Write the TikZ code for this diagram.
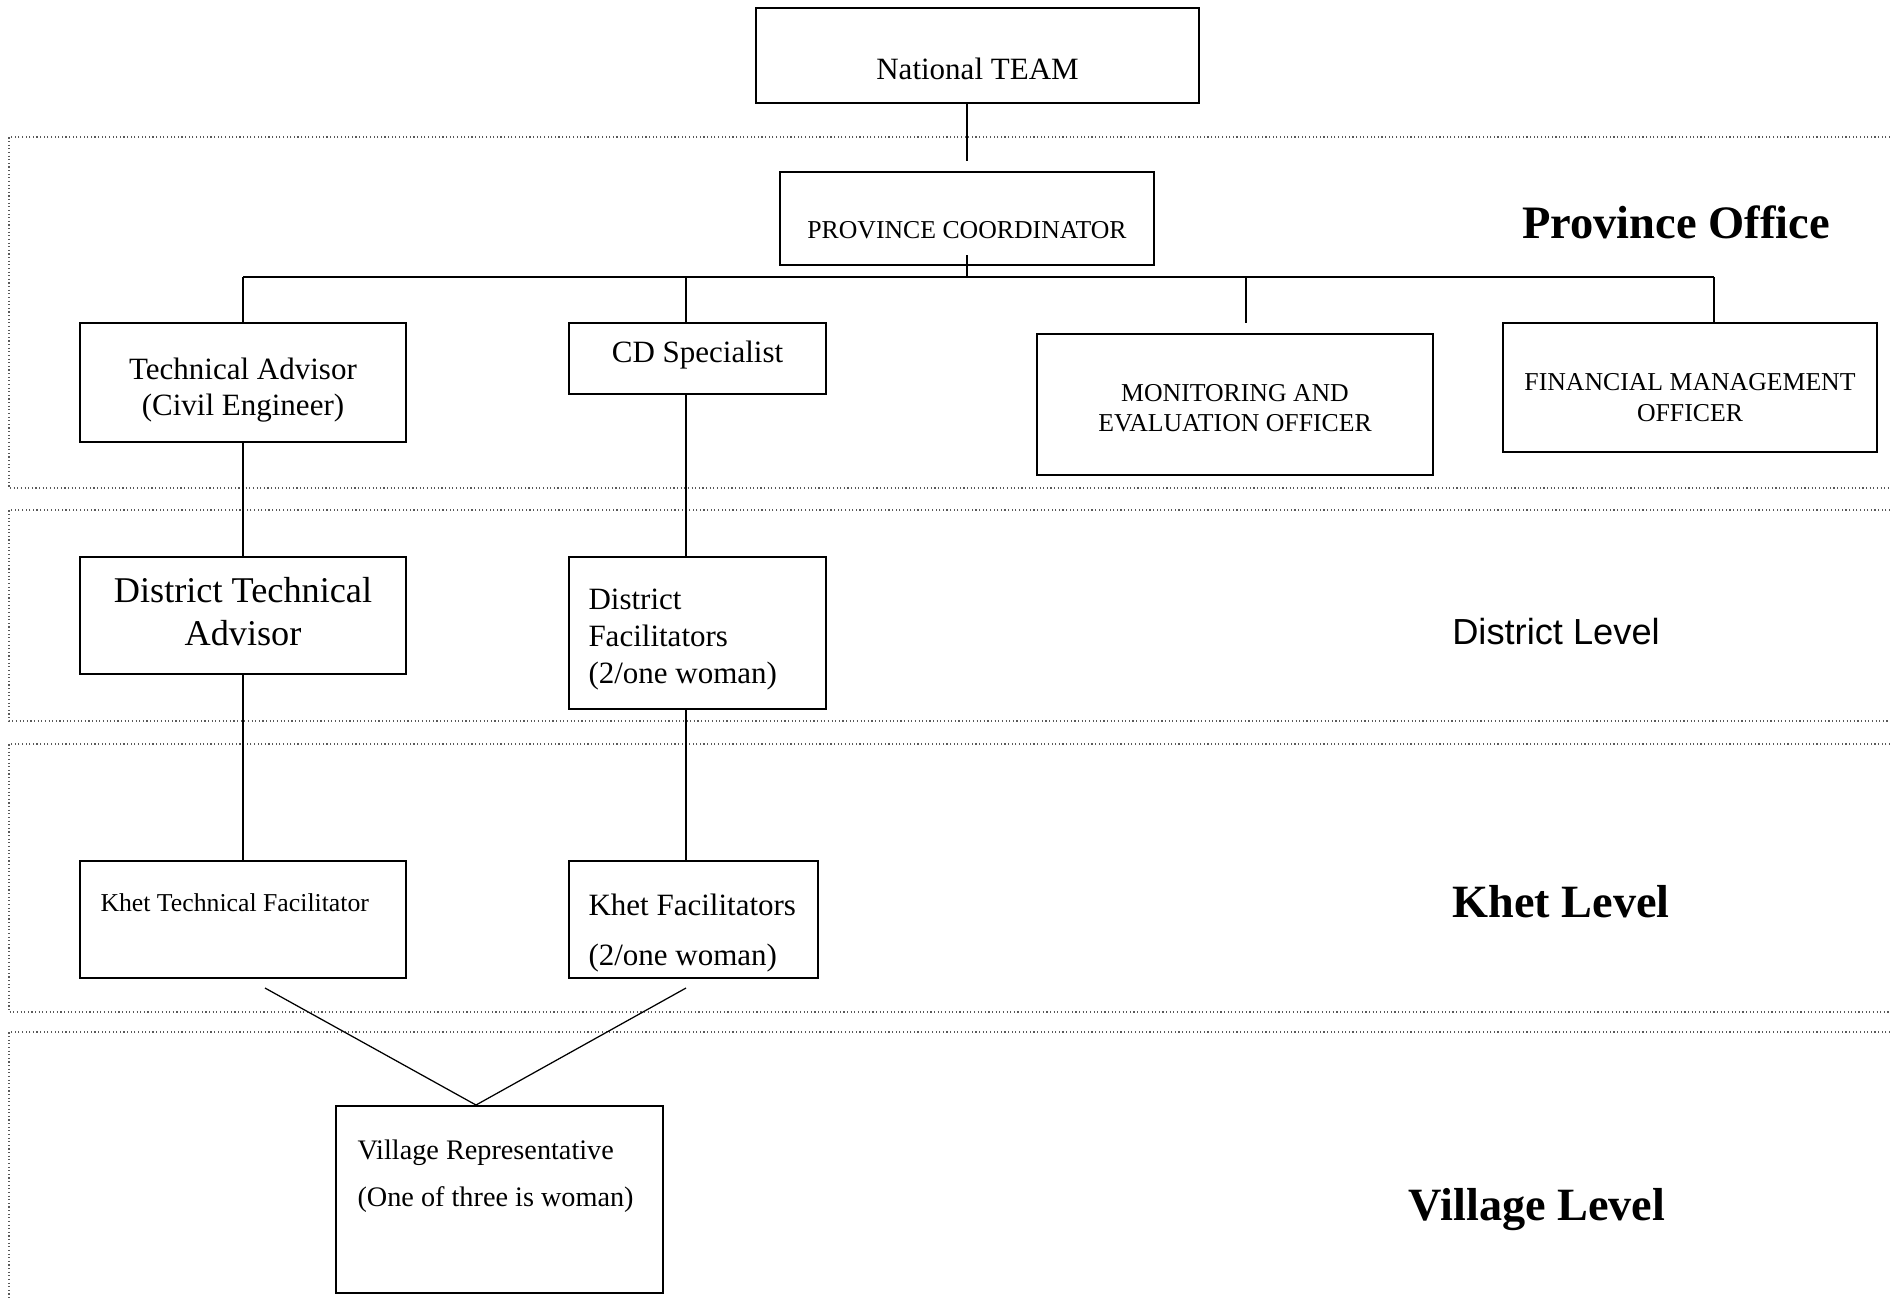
\documentclass[tikz,border=0pt]{standalone}
\usepackage{fontspec}
\setmainfont{Liberation Serif}
\newfontfamily\arialfont{Liberation Sans}
\begin{document}
\begin{tikzpicture}[x=0.4pt,y=-0.4pt,
  box/.style={draw=black,line width=0.8pt,rectangle,inner sep=0pt,fill=white},
  conn/.style={draw=black,line width=0.5pt},
  region/.style={draw=black!65,line width=0.45pt,densely dotted},
  txt/.style={inner sep=0pt,font=\fontsize{12.4}{15}\selectfont},
  small/.style={inner sep=0pt,font=\fontsize{10.3}{12.4}\selectfont},
  lvl/.style={inner sep=0pt,font=\fontsize{18.6}{22}\selectfont\bfseries}]
\useasboundingbox (0,0) rectangle (1890,1300);
% regions
\draw[region] (1890,137) -- (9,137) -- (9,488) -- (1890,488);
\draw[region] (1890,510) -- (9,510) -- (9,721) -- (1890,721);
\draw[region] (1890,744) -- (9,744) -- (9,1012) -- (1890,1012);
\draw[region] (1890,1032) -- (9,1032) -- (9,1300);
% boxes
\node[box,minimum width=177.2pt,minimum height=38pt] (nat) at (977.5,55.5) {};
\node[box,minimum width=149.6pt,minimum height=37.2pt] (pc) at (967,218.5) {};
\node[box,minimum width=130.4pt,minimum height=47.6pt] (ta) at (243,382.5) {};
\node[box,minimum width=102.8pt,minimum height=28.4pt] (cd) at (697.5,358.5) {};
\node[box,minimum width=158.4pt,minimum height=56.4pt] (me) at (1235,404.5) {};
\node[box,minimum width=149.6pt,minimum height=51.6pt] (fmo) at (1690,387.5) {};
\node[box,minimum width=130.4pt,minimum height=46.8pt] (dta) at (243,615.5) {};
\node[box,minimum width=102.8pt,minimum height=60.8pt] (df) at (697.5,633) {};
\node[box,minimum width=130.4pt,minimum height=46.8pt] (ktf) at (243,919.5) {};
\node[box,minimum width=99.6pt,minimum height=46.8pt] (kf) at (693.5,919.5) {};
\node[box,minimum width=130.8pt,minimum height=74.8pt] (vr) at (499.5,1199.5) {};
% texts
\node[txt] (tnat) at (977.5,69) {National TEAM};
\node[small] (tpc) at (967,230) {PROVINCE COORDINATOR};
\node[txt,align=center,font=\fontsize{12.4}{14.4}\selectfont] (tta) at (243,390) {Technical Advisor\\(Civil Engineer)};
\node[txt] (tcd) at (697.5,355) {CD Specialist};
\node[small,align=center,font=\fontsize{10.3}{12}\selectfont] (tme) at (1235,408) {MONITORING AND\\EVALUATION OFFICER};
\node[small,align=center] (tfmo) at (1690,397.5) {FINANCIAL MANAGEMENT\\OFFICER};
\node[lvl] (lprov) at (1676,222) {Province Office};
\node[txt,align=center,font=\fontsize{14.5}{17.2}\selectfont] (tdta) at (243,611.5) {District Technical\\Advisor};
\node[txt,align=left,anchor=west,font=\fontsize{12.4}{14.8}\selectfont] (tdf) at (588,640) {District\\Facilitators\\(2/one woman)};
\node[inner sep=0pt,font=\arialfont\fontsize{14.5}{17}\selectfont] (ldist) at (1556,632) {District Level};
\node[small,anchor=west] (tktf) at (100,903) {Khet Technical Facilitator};
\node[txt,anchor=west] (tkf1) at (588,905) {Khet Facilitators};
\node[txt,anchor=west] (tkf2) at (588,958) {(2/one woman)};
\node[lvl,font=\fontsize{18.5}{22}\selectfont\bfseries] (lkhet) at (1561,902) {Khet Level};
\node[inner sep=0pt,anchor=west,font=\fontsize{11.3}{13}\selectfont] (tvr1) at (357,1153) {Village Representative};
\node[inner sep=0pt,anchor=west,font=\fontsize{11.3}{13}\selectfont] (tvr2) at (357,1200) {(One of three is woman)};
\node[lvl,font=\fontsize{18.5}{22}\selectfont\bfseries] (lvil) at (1537,1210) {Village Level};
% connectors
\coordinate (bus) at (967,277);
\coordinate (b1) at (243,277);
\coordinate (b2) at (686,277);
\coordinate (b3) at (1246,277);
\coordinate (b4) at (1714,277);
\coordinate (k1) at (265,988);
\coordinate (k2) at (686,988);
\coordinate (apex) at (476,1106);
\draw[conn,shorten >=4pt] (nat.south -| bus) -- (pc.north -| bus);
\draw[conn] ([yshift=4.4pt]pc.south -| bus) -- (bus);
\draw[conn] (b1) -- (b4);
\draw[conn] (b1) -- (ta.north);
\draw[conn] (b2) -- (b2 |- cd.north);
\draw[conn,shorten >=4pt] (b3) -- (b3 |- me.north);
\draw[conn] (b4) -- (b4 |- fmo.north);
\draw[conn] (ta.south) -- (dta.north);
\draw[conn] (b2 |- cd.south) -- (b2 |- df.north);
\draw[conn] (dta.south) -- (ktf.north);
\draw[conn] (b2 |- df.south) -- (b2 |- kf.north);
\draw[conn] (k1) -- (apex |- vr.north);
\draw[conn] (k2) -- (apex |- vr.north);
\end{tikzpicture}
\end{document}
